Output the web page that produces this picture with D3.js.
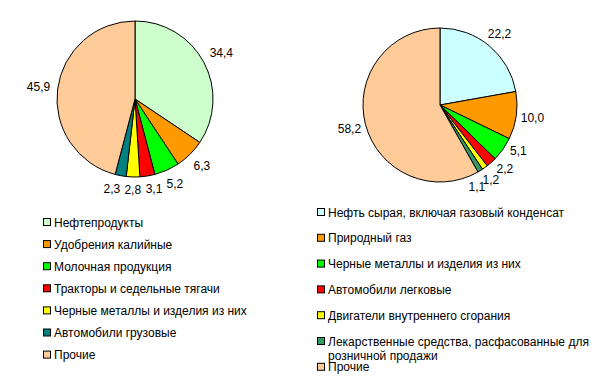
<!DOCTYPE html>
<html>
<head>
<meta charset="utf-8">
<script src="https://cdn.jsdelivr.net/npm/d3@7"></script>
<style>
  body { margin: 0; background: #fff; }
  svg { display: block; }
  text { font-family: Arial, "Liberation Sans", sans-serif; font-size: 12px; fill: #000; }
</style>
</head>
<body>
<svg id="chart" width="596" height="389"></svg>
<script>
// left pie - export structure
var leftCategories = ['Нефтепродукты', 'Удобрения калийные', 'Молочная продукция',
  'Тракторы и седельные тягачи', 'Черные металлы и изделия из них', 'Автомобили грузовые', 'Прочие'];
var leftValues = [34.4, 6.3, 5.2, 3.1, 2.8, 2.3, 45.9];
var leftColors = ['#ccffcc', '#ff9900', '#00ff00', '#ff0000', '#ffff00', '#008080', '#ffcc99'];

// right pie - import structure
var rightCategories = ['Нефть сырая, включая газовый конденсат', 'Природный газ', 'Черные металлы и изделия из них',
  'Автомобили легковые', 'Двигатели внутреннего сгорания',
  ['Лекарственные средства, расфасованные для', 'розничной продажи'], 'Прочие'];
var rightValues = [22.2, 10.0, 5.1, 2.2, 1.2, 1.1, 58.2];
var rightColors = ['#ccffff', '#ff9900', '#00ff00', '#ff0000', '#ffff00', '#339966', '#ffcc99'];

var svg = d3.select('#chart');
var fmt = function(v) { return d3.format('.1f')(v).replace('.', ','); };

// opt: gap from rim, label box height and padding used when spreading labels
function drawPie(values, colors, cx, cy, r, opt) {
  var g = svg.append('g').attr('transform', 'translate(' + cx + ',' + cy + ')');
  var pie = d3.pie().sort(null).value(function(d) { return d; });
  var arcs = pie(values);
  var arc = d3.arc().innerRadius(0).outerRadius(r);

  g.selectAll('path')
    .data(arcs)
    .enter()
    .append('path')
    .attr('d', arc)
    .style('fill', function(d, i) { return colors[i]; })
    .style('stroke', '#000')
    .style('stroke-width', 1);

  var texts = g.selectAll('text.lbl')
    .data(arcs)
    .enter()
    .append('text')
    .attr('class', 'lbl')
    .attr('dy', '0.35em')
    .attr('text-anchor', 'middle')
    .text(function(d) { return fmt(d.data); });

  var h = 11;
  var labels = arcs.map(function(d, i) {
    return { a: (d.startAngle + d.endAngle) / 2, w: texts.nodes()[i].getComputedTextLength() };
  });
  function place(l) {
    var ext = Math.abs(Math.sin(l.a)) * l.w / 2 + Math.abs(Math.cos(l.a)) * h / 2;
    var rr = r + opt.gap + ext;
    l.x = Math.sin(l.a) * rr;
    l.y = -Math.cos(l.a) * rr;
  }
  labels.forEach(place);

  // nudge neighbouring labels apart along the rim
  for (var it = 0; it < 400; it++) {
    var moved = false;
    for (var i = 0; i < labels.length - 1; i++) {
      var p = labels[i], q = labels[i + 1];
      var ox = (p.w + q.w) / 2 + opt.padX - Math.abs(p.x - q.x);
      var oy = opt.boxH - Math.abs(p.y - q.y);
      if (ox > 0 && oy > 0) {
        p.a -= 0.004; q.a += 0.004;
        place(p); place(q);
        moved = true;
      }
    }
    if (!moved) break;
  }

  texts
    .attr('x', function(d, i) { return labels[i].x; })
    .attr('y', function(d, i) { return labels[i].y; });
}

function drawLegend(categories, colors, x, y, step) {
  var g = svg.append('g').attr('transform', 'translate(' + x + ',' + y + ')');
  var item = g.selectAll('g')
    .data(categories)
    .enter()
    .append('g')
    .attr('transform', function(d, i) { return 'translate(0,' + (i * step) + ')'; });

  item.append('rect')
    .attr('x', 0.5)
    .attr('y', -3.5)
    .attr('width', 7)
    .attr('height', 7)
    .style('fill', function(d, i) { return colors[i]; })
    .style('stroke', '#000');

  item.append('text')
    .attr('x', 11)
    .attr('y', 4.5)
    .selectAll('tspan')
    .data(function(d) { return Array.isArray(d) ? d : [d]; })
    .enter()
    .append('tspan')
    .attr('x', 11)
    .attr('dy', function(d, i) { return i ? 14 : 0; })
    .text(function(d) { return d; });
}

drawPie(leftValues, leftColors, 135, 99, 78, { gap: 7, boxH: 14, padX: 4 });
drawPie(rightValues, rightColors, 440, 105, 77, { gap: 4, boxH: 17, padX: -3 });
drawLegend(leftCategories, leftColors, 43, 222, 22.1);
drawLegend(rightCategories, rightColors, 317, 212, 25.8);
</script>
</body>
</html>
